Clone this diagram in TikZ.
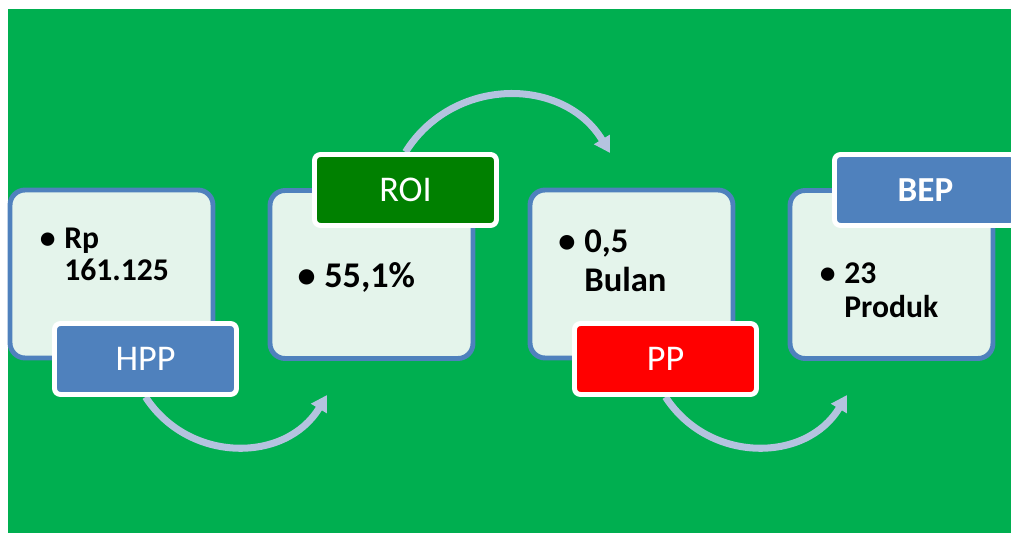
\documentclass[tikz,border=0pt]{standalone}
\usepackage{fontspec}
\setmainfont{Carlito}
\usepackage{tikz}
\usetikzlibrary{arrows.meta}

\definecolor{bggreen}{HTML}{00AF50}
\definecolor{cardfill}{HTML}{E4F4EB}
\definecolor{cardblue}{HTML}{4F81BD}
\definecolor{roigreen}{HTML}{008000}
\definecolor{ppred}{HTML}{FF0000}
\definecolor{arrowblue}{HTML}{B4C3DF}

\pgfdeclarelayer{back}
\pgfdeclarelayer{mid}
\pgfsetlayers{back,mid,main}

\newcommand{\bul}{\llap{\textbullet\hspace{5pt}}}

\begin{document}
\begin{tikzpicture}[x=0.02cm,y=0.02cm]
%\tikzstyle{card}=[rounded corners,draw=cardblue,fill=cardfill]
\useasboundingbox (0,0) rectangle (1011,-533);
\begin{pgfonlayer}{back}
    \fill[bggreen] (8,-9) rectangle (1020,-540);
\end{pgfonlayer}

\begin{scope}[every node/.style={rectangle,rounded corners=0.3cm,draw=cardblue,line width=2.8pt,fill=cardfill,minimum width=4.06cm,minimum height=3.36cm}]
    \node (c1) at (111.5,-274) {};
    \node (c2) at (371.5,-274.5) {};
    \node (c3) at (631.5,-274) {};
    \node (c4) at (891.5,-274.5) {};
\end{scope}

\begin{scope}[every node/.style={anchor=base west,align=left,inner sep=0pt,font=\bfseries}]
    \node[font=\bfseries\fontsize{18}{33\dimexpr0.567pt\relax}\selectfont] (v1) at (64,-281) {\bul Rp\\161.125};
    \node[font=\bfseries\fontsize{20.6}{24}\selectfont] (v2) at (324,-288) {\bul 55,1\%};
    \node[font=\bfseries\fontsize{19.7}{40\dimexpr0.567pt\relax}\selectfont] (v3) at (584,-292) {\bul 0,5\\Bulan};
    \node[font=\bfseries\fontsize{18}{35\dimexpr0.567pt\relax}\selectfont] (v4) at (844,-318) {\bul 23\\Produk};
\end{scope}

\begin{scope}[every node/.style={rectangle,rounded corners=0.12cm,draw=white,line width=2.8pt,minimum width=3.64cm,minimum height=1.42cm,text=white,font=\fontsize{20.6}{24}\selectfont}]
    \node[fill=cardblue] (hpp) at (145.5,-359) {HPP};
    \node[fill=roigreen] (roi) at (405.5,-190) {ROI};
    \node[fill=ppred] (pp) at (665.5,-359) {PP};
    \node[fill=cardblue,font=\bfseries\fontsize{20}{24}\selectfont] (bep) at (925.5,-190) {BEP};
\end{scope}

\coordinate (t1) at (327,-395);
\coordinate (t2) at (610,-153);
\coordinate (t3) at (847,-395);
\begin{pgfonlayer}{mid}
\begin{scope}[draw=arrowblue,line width=4pt,-{Triangle[length=9pt,width=10pt]},looseness=1.12]
    \draw (hpp.south) to[out=-57,in=-121] (t1);
    \draw (roi.north) to[out=58,in=121] (t2);
    \draw (pp.south) to[out=-57,in=-121] (t3);
\end{scope}
\end{pgfonlayer}
\end{tikzpicture}
\end{document}
